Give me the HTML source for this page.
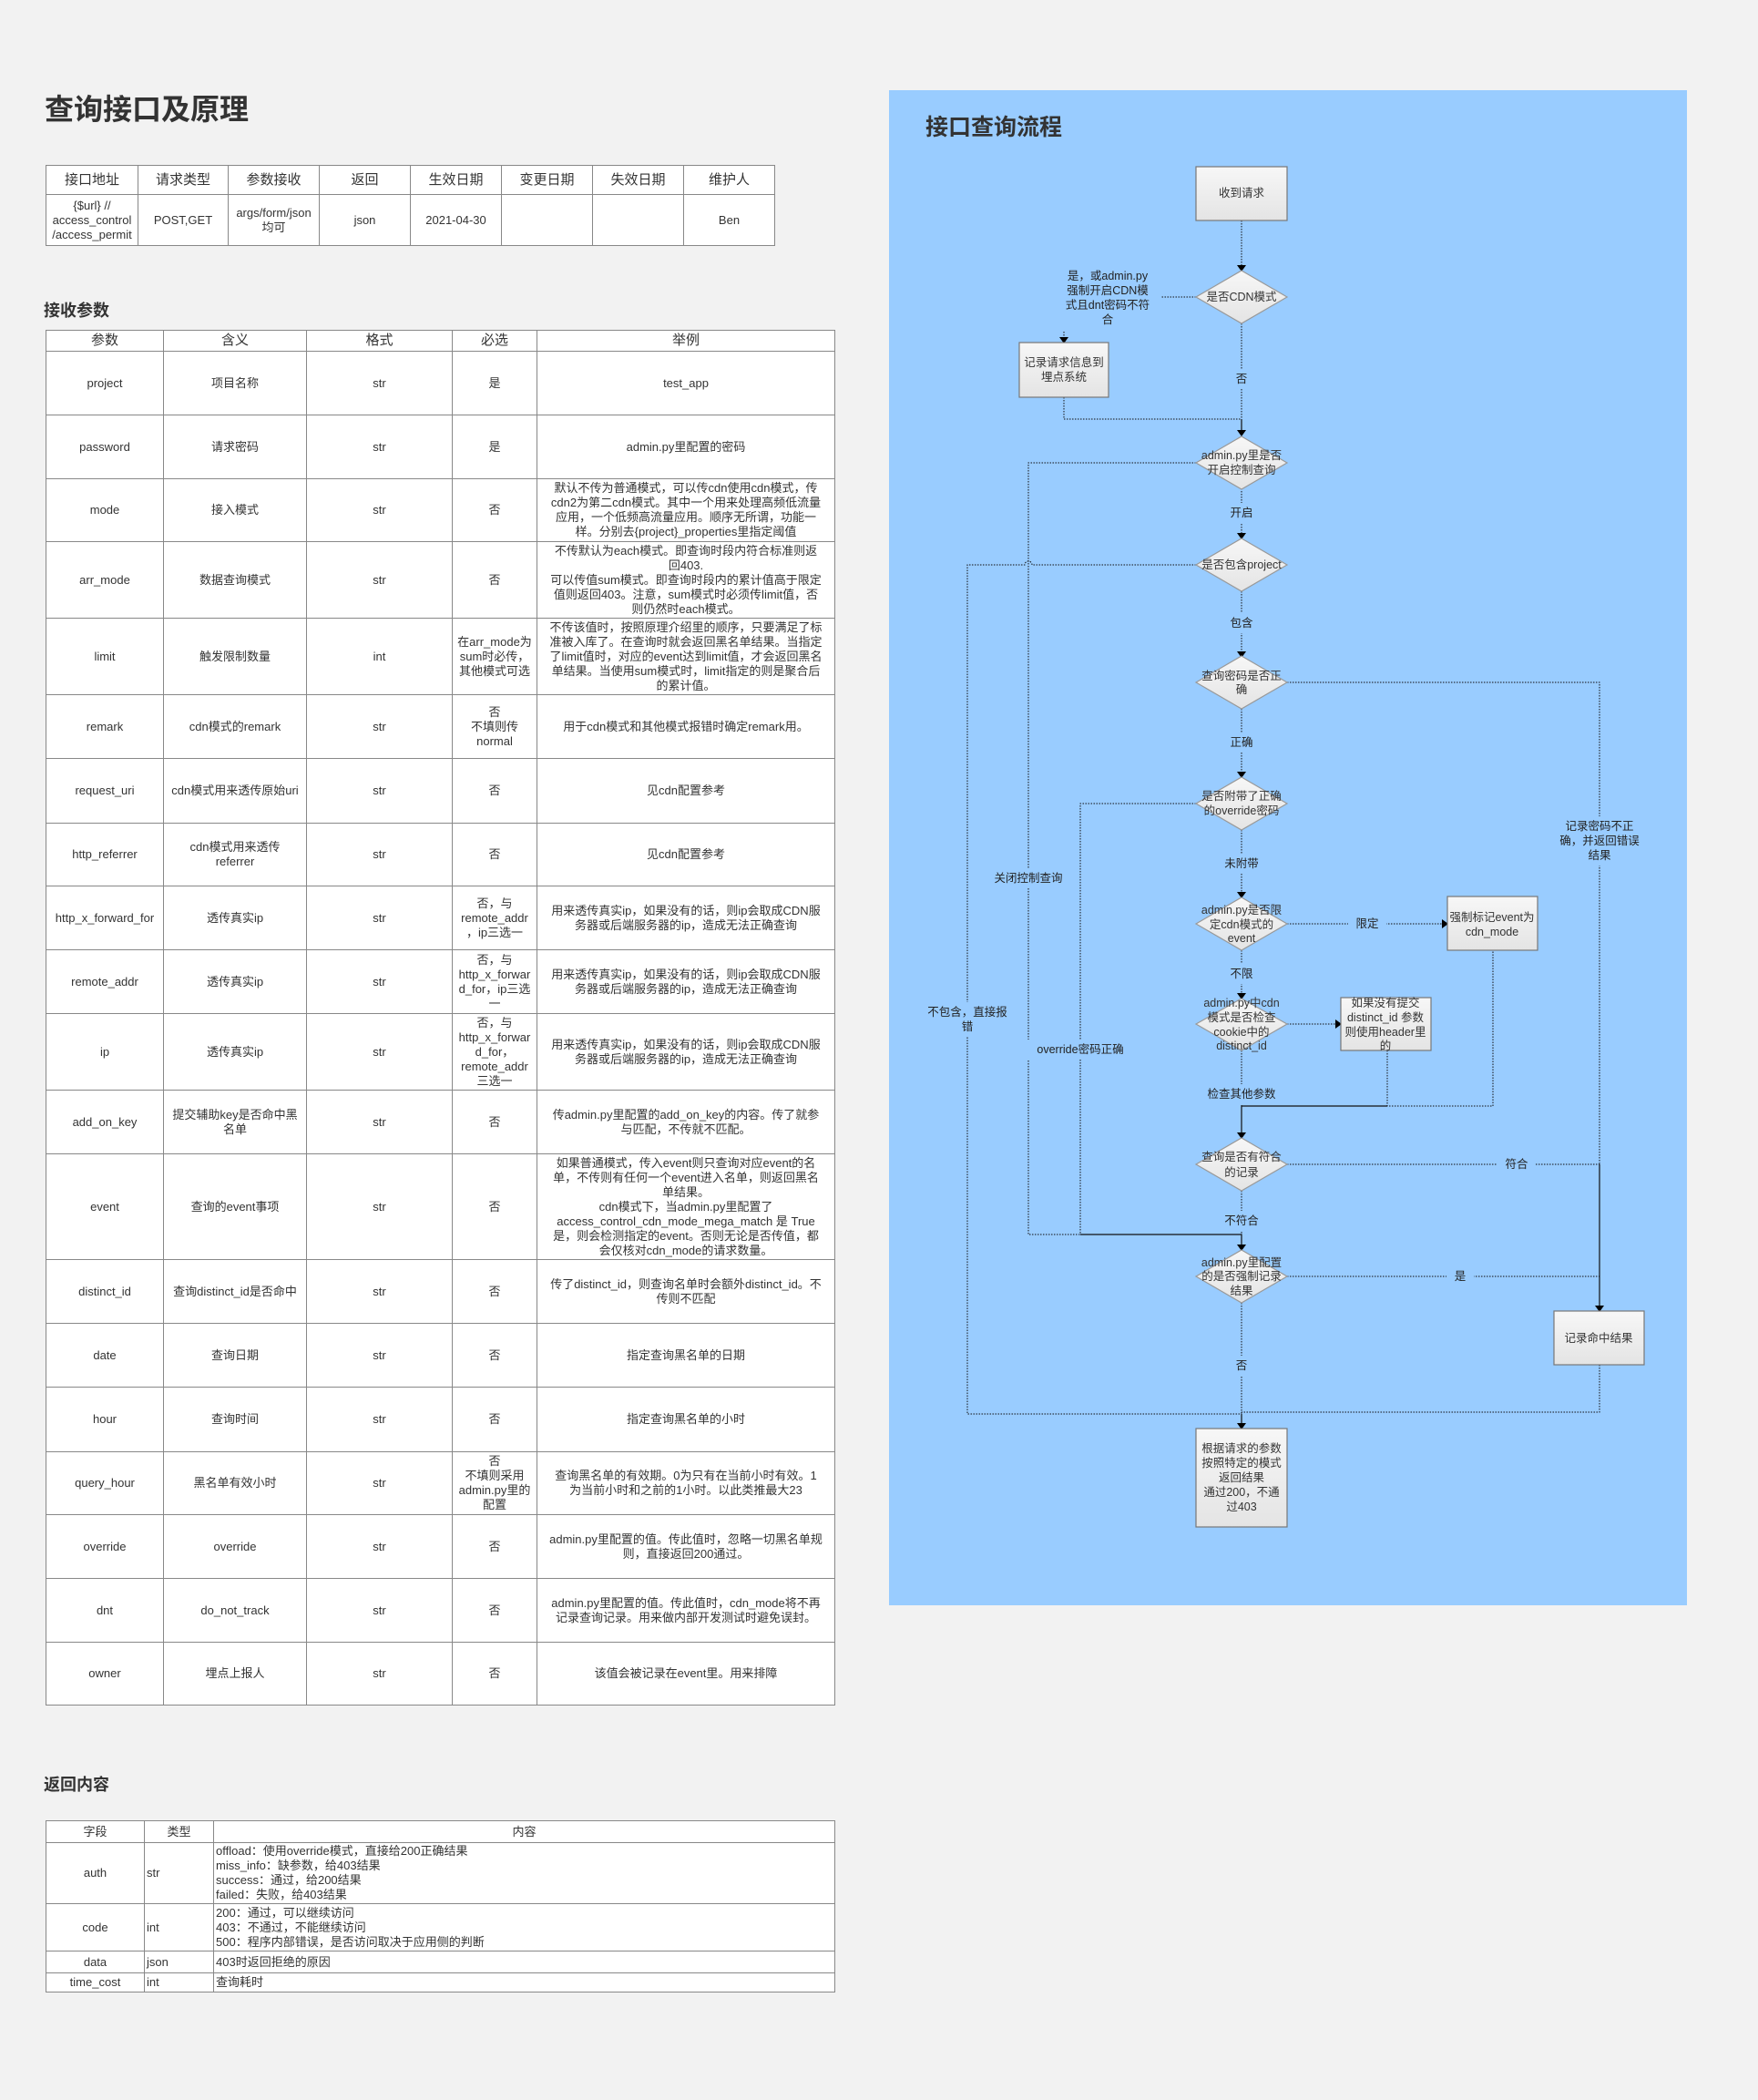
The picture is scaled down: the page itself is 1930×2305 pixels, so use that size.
<!DOCTYPE html>
<html><head><meta charset="utf-8">
<style>
html,body{margin:0;padding:0;}
body{width:1930px;height:2305px;background:#f2f2f2;position:relative;overflow:hidden;font-family:"Liberation Sans","Noto Sans CJK SC",sans-serif;color:#333;}
h1{position:absolute;left:49px;top:99px;margin:0;font-size:32px;line-height:42px;font-weight:bold;color:#333;}
h2{position:absolute;margin:0;font-size:18px;line-height:24px;font-weight:bold;color:#333;}
table{position:absolute;border-collapse:collapse;table-layout:fixed;background:#fff;}
td,th{border:1px solid #888;font-size:13px;line-height:16px;text-align:center;vertical-align:middle;padding:0 2px;font-weight:normal;color:#333;overflow:hidden;}
th{font-size:15px;}
.l{text-align:left;}
#panel{position:absolute;left:976px;top:99px;width:876px;height:1663px;background:#99ccff;}
svg{position:absolute;left:0;top:0;}
</style></head><body>
<h1>查询接口及原理</h1>

<table style="left:50px;top:181px;width:800px;">
<colgroup><col style="width:101px"><col style="width:99px"><col style="width:100px"><col style="width:100px"><col style="width:100px"><col style="width:100px"><col style="width:100px"><col style="width:100px"></colgroup>
<tr style="height:32px"><th>接口地址</th><th>请求类型</th><th>参数接收</th><th>返回</th><th>生效日期</th><th>变更日期</th><th>失效日期</th><th>维护人</th></tr>
<tr style="height:56px"><td style="padding:0">{$url} //<br>access_control<br>/access_permit</td><td>POST,GET</td><td>args/form/json<br>均可</td><td>json</td><td>2021-04-30</td><td></td><td></td><td>Ben</td></tr>
</table>

<h2 style="left:48px;top:329px;">接收参数</h2>

<table style="left:50px;top:362px;width:866px;">
<colgroup><col style="width:129px"><col style="width:157px"><col style="width:160px"><col style="width:93px"><col style="width:327px"></colgroup>
<tr style="height:23px"><th>参数</th><th>含义</th><th>格式</th><th>必选</th><th>举例</th></tr>
<tr style="height:70px"><td>project</td><td>项目名称</td><td>str</td><td>是</td><td>test_app</td></tr>
<tr style="height:70px"><td>password</td><td>请求密码</td><td>str</td><td>是</td><td>admin.py里配置的密码</td></tr>
<tr style="height:69px"><td>mode</td><td>接入模式</td><td>str</td><td>否</td><td>默认不传为普通模式，可以传cdn使用cdn模式，传<br>cdn2为第二cdn模式。其中一个用来处理高频低流量<br>应用，一个低频高流量应用。顺序无所谓，功能一<br>样。分别去{project}_properties里指定阈值</td></tr>
<tr style="height:84px"><td>arr_mode</td><td>数据查询模式</td><td>str</td><td>否</td><td>不传默认为each模式。即查询时段内符合标准则返<br>回403.<br>可以传值sum模式。即查询时段内的累计值高于限定<br>值则返回403。注意，sum模式时必须传limit值，否<br>则仍然时each模式。</td></tr>
<tr style="height:84px"><td>limit</td><td>触发限制数量</td><td>int</td><td style="padding:0">在arr_mode为<br>sum时必传，<br>其他模式可选</td><td>不传该值时，按照原理介绍里的顺序，只要满足了标<br>准被入库了。在查询时就会返回黑名单结果。当指定<br>了limit值时，对应的event达到limit值，才会返回黑名<br>单结果。当使用sum模式时，limit指定的则是聚合后<br>的累计值。</td></tr>
<tr style="height:70px"><td>remark</td><td>cdn模式的remark</td><td>str</td><td>否<br>不填则传<br>normal</td><td>用于cdn模式和其他模式报错时确定remark用。</td></tr>
<tr style="height:71px"><td>request_uri</td><td style="padding:0">cdn模式用来透传原始uri</td><td>str</td><td>否</td><td>见cdn配置参考</td></tr>
<tr style="height:69px"><td>http_referrer</td><td>cdn模式用来透传<br>referrer</td><td>str</td><td>否</td><td>见cdn配置参考</td></tr>
<tr style="height:70px"><td style="padding:0">http_x_forward_for</td><td>透传真实ip</td><td>str</td><td style="padding:0">否，与<br>remote_addr<br>，ip三选一</td><td>用来透传真实ip，如果没有的话，则ip会取成CDN服<br>务器或后端服务器的ip，造成无法正确查询</td></tr>
<tr style="height:70px"><td>remote_addr</td><td>透传真实ip</td><td>str</td><td style="padding:0">否，与<br>http_x_forwar<br>d_for，ip三选<br>一</td><td>用来透传真实ip，如果没有的话，则ip会取成CDN服<br>务器或后端服务器的ip，造成无法正确查询</td></tr>
<tr style="height:84px"><td>ip</td><td>透传真实ip</td><td>str</td><td style="padding:0">否，与<br>http_x_forwar<br>d_for，<br>remote_addr<br>三选一</td><td>用来透传真实ip，如果没有的话，则ip会取成CDN服<br>务器或后端服务器的ip，造成无法正确查询</td></tr>
<tr style="height:70px"><td>add_on_key</td><td>提交辅助key是否命中黑<br>名单</td><td>str</td><td>否</td><td>传admin.py里配置的add_on_key的内容。传了就参<br>与匹配，不传就不匹配。</td></tr>
<tr style="height:116px"><td>event</td><td>查询的event事项</td><td>str</td><td>否</td><td>如果普通模式，传入event则只查询对应event的名<br>单，不传则有任何一个event进入名单，则返回黑名<br>单结果。<br>cdn模式下，当admin.py里配置了<br>access_control_cdn_mode_mega_match 是 True<br>是，则会检测指定的event。否则无论是否传值，都<br>会仅核对cdn_mode的请求数量。</td></tr>
<tr style="height:70px"><td>distinct_id</td><td style="padding:0">查询distinct_id是否命中</td><td>str</td><td>否</td><td>传了distinct_id，则查询名单时会额外distinct_id。不<br>传则不匹配</td></tr>
<tr style="height:70px"><td>date</td><td>查询日期</td><td>str</td><td>否</td><td>指定查询黑名单的日期</td></tr>
<tr style="height:71px"><td>hour</td><td>查询时间</td><td>str</td><td>否</td><td>指定查询黑名单的小时</td></tr>
<tr style="height:69px"><td>query_hour</td><td>黑名单有效小时</td><td>str</td><td style="padding:0">否<br>不填则采用<br>admin.py里的<br>配置</td><td>查询黑名单的有效期。0为只有在当前小时有效。1<br>为当前小时和之前的1小时。以此类推最大23</td></tr>
<tr style="height:70px"><td>override</td><td>override</td><td>str</td><td>否</td><td>admin.py里配置的值。传此值时，忽略一切黑名单规<br>则，直接返回200通过。</td></tr>
<tr style="height:70px"><td>dnt</td><td>do_not_track</td><td>str</td><td>否</td><td>admin.py里配置的值。传此值时，cdn_mode将不再<br>记录查询记录。用来做内部开发测试时避免误封。</td></tr>
<tr style="height:69px"><td>owner</td><td>埋点上报人</td><td>str</td><td>否</td><td>该值会被记录在event里。用来排障</td></tr>
</table>

<h2 style="left:48px;top:1947px;">返回内容</h2>

<table style="left:50px;top:1998px;width:866px;">
<colgroup><col style="width:108px"><col style="width:76px"><col style="width:682px"></colgroup>
<tr style="height:24px"><td>字段</td><td>类型</td><td>内容</td></tr>
<tr style="height:67px"><td>auth</td><td class="l">str</td><td class="l">offload：使用override模式，直接给200正确结果<br>miss_info：缺参数，给403结果<br>success：通过，给200结果<br>failed：失败，给403结果</td></tr>
<tr style="height:52px"><td>code</td><td class="l">int</td><td class="l">200：通过，可以继续访问<br>403：不通过，不能继续访问<br>500：程序内部错误，是否访问取决于应用侧的判断</td></tr>
<tr style="height:24px"><td>data</td><td class="l">json</td><td class="l">403时返回拒绝的原因</td></tr>
<tr style="height:21px"><td>time_cost</td><td class="l">int</td><td class="l">查询耗时</td></tr>
</table>

<div id="panel"></div>

<svg width="1930" height="2305" viewBox="0 0 1930 2305" xmlns="http://www.w3.org/2000/svg" font-family="Liberation Sans, Noto Sans CJK SC, sans-serif">
<defs>
<linearGradient id="g" x1="0" y1="0" x2="0" y2="1"><stop offset="0" stop-color="#f7f7f7"/><stop offset="1" stop-color="#e4e4e4"/></linearGradient>
</defs>
<text x="1016" y="148" font-size="25" font-weight="bold" fill="#333">接口查询流程</text>

<g fill="none" stroke="#111" stroke-width="1" stroke-dasharray="1.5,1.5">
<path d="M1363 242V292"/>
<path d="M1313 326H1275"/>
<path d="M1168 364V371"/>
<path d="M1363 355V474"/>
<path d="M1168 436V460H1363"/>
<path d="M1313 508H1129V1355H1186"/>
<path d="M1363 536V586"/>
<path d="M1313 620H1133A4 4 0 0 0 1125 620H1062V1552H1363"/>
<path d="M1363 649V716"/>
<path d="M1413 749H1756V1278"/>
<path d="M1363 778V848"/>
<path d="M1313 882H1186V1355"/>
<path d="M1363 911V980"/>
<path d="M1413 1014H1583"/>
<path d="M1363 1043V1091"/>
<path d="M1413 1124H1466"/>
<path d="M1363 1153V1214"/>
<path d="M1523 1153V1214H1639V1043"/>
<path d="M1413 1278H1756"/>
<path d="M1363 1307V1355"/>
<path d="M1413 1401H1756"/>
<path d="M1363 1430V1552"/>
<path d="M1756 1498V1550H1363"/>
</g>
<g fill="none" stroke="#111" stroke-width="1.2">
<path d="M1363 460V474"/>
<path d="M1523 1214H1363V1244"/>
<path d="M1186 1355H1363V1367"/>
<path d="M1756 1278V1434"/>
<path d="M1363 1552V1563"/>
</g>
<g fill="#000">
<path d="M1358 291H1368L1363 298Z"/>
<path d="M1163 370H1173L1168 377Z"/>
<path d="M1358 472H1368L1363 479Z"/>
<path d="M1358 585H1368L1363 592Z"/>
<path d="M1358 715H1368L1363 722Z"/>
<path d="M1358 847H1368L1363 854Z"/>
<path d="M1358 979H1368L1363 986Z"/>
<path d="M1358 1090H1368L1363 1097Z"/>
<path d="M1358 1243H1368L1363 1250Z"/>
<path d="M1358 1366H1368L1363 1373Z"/>
<path d="M1751 1433H1761L1756 1440Z"/>
<path d="M1358 1562H1368L1363 1569Z"/>
<path d="M1583 1009V1019L1590 1014Z"/>
<path d="M1466 1119V1129L1473 1124Z"/>
</g>

<g font-size="12.5" fill="#222" text-anchor="middle" dominant-baseline="central">
<rect x="1352" y="405" width="22" height="22" fill="#99ccff"/><text x="1363" y="416">否</text>
<rect x="1346" y="552" width="34" height="22" fill="#99ccff"/><text x="1363" y="563">开启</text>
<rect x="1346" y="673" width="34" height="22" fill="#99ccff"/><text x="1363" y="684">包含</text>
<rect x="1346" y="804" width="34" height="22" fill="#99ccff"/><text x="1363" y="815">正确</text>
<rect x="1340" y="937" width="46" height="22" fill="#99ccff"/><text x="1363" y="948">未附带</text>
<rect x="1346" y="1058" width="34" height="22" fill="#99ccff"/><text x="1363" y="1069">不限</text>
<rect x="1320" y="1190" width="86" height="22" fill="#99ccff"/><text x="1363" y="1201">检查其他参数</text>
<rect x="1340" y="1329" width="46" height="22" fill="#99ccff"/><text x="1363" y="1340">不符合</text>
<rect x="1352" y="1488" width="22" height="22" fill="#99ccff"/><text x="1363" y="1499">否</text>
<rect x="1480" y="1003" width="42" height="22" fill="#99ccff"/><text x="1501" y="1014">限定</text>
<rect x="1644" y="1267" width="42" height="22" fill="#99ccff"/><text x="1665" y="1278">符合</text>
<rect x="1588" y="1390" width="30" height="22" fill="#99ccff"/><text x="1603" y="1401">是</text>
<rect x="1082" y="953" width="94" height="22" fill="#99ccff"/><text x="1129" y="964">关闭控制查询</text>
<rect x="1128" y="1141" width="116" height="22" fill="#99ccff"/><text x="1186" y="1152">override密码正确</text>
<rect x="1010" y="1100" width="104" height="38" fill="#99ccff"/><text x="1062" y="1111">不包含，直接报</text><text x="1062" y="1127">错</text>
<rect x="1706" y="896" width="100" height="54" fill="#99ccff"/><text x="1756" y="907">记录密码不正</text><text x="1756" y="923">确，并返回错误</text><text x="1756" y="939">结果</text>
<text x="1216" y="303">是，或admin.py</text><text x="1216" y="319">强制开启CDN模</text><text x="1216" y="335">式且dnt密码不符</text><text x="1216" y="351">合</text>
</g>

<g fill="url(#g)" stroke="#999" stroke-width="1.2">
<path d="M1363 297L1413 326L1363 355L1313 326Z"/>
<path d="M1363 479L1413 508L1363 537L1313 508Z"/>
<path d="M1363 591L1413 620L1363 649L1313 620Z"/>
<path d="M1363 720L1413 749L1363 778L1313 749Z"/>
<path d="M1363 853L1413 882L1363 911L1313 882Z"/>
<path d="M1363 985L1413 1014L1363 1043L1313 1014Z"/>
<path d="M1363 1096L1413 1124L1363 1153L1313 1124Z"/>
<path d="M1363 1249L1413 1278L1363 1307L1313 1278Z"/>
<path d="M1363 1372L1413 1401L1363 1430L1313 1401Z"/>
</g>
<g fill="url(#g)" stroke="#777" stroke-width="1.2">
<rect x="1313" y="183" width="100" height="59"/>
<rect x="1119" y="376" width="98" height="60"/>
<rect x="1589" y="984" width="99" height="59"/>
<rect x="1472" y="1095" width="99" height="58"/>
<rect x="1706" y="1439" width="99" height="59"/>
<rect x="1313" y="1568" width="100" height="108"/>
</g>
<g font-size="12.5" fill="#333" text-anchor="middle" dominant-baseline="central">
<text x="1363" y="326">是否CDN模式</text>
<text x="1363" y="500">admin.py里是否</text><text x="1363" y="516">开启控制查询</text>
<text x="1363" y="620">是否包含project</text>
<text x="1363" y="742">查询密码是否正</text><text x="1363" y="757">确</text>
<text x="1363" y="874">是否附带了正确</text><text x="1363" y="890">的override密码</text>
<text x="1363" y="999">admin.py是否限</text><text x="1363" y="1015">定cdn模式的</text><text x="1363" y="1030">event</text>
<text x="1363" y="1101">admin.py中cdn</text><text x="1363" y="1117">模式是否检查</text><text x="1363" y="1133">cookie中的</text><text x="1363" y="1148">distinct_id</text>
<text x="1363" y="1270">查询是否有符合</text><text x="1363" y="1287">的记录</text>
<text x="1363" y="1386">admin.py里配置</text><text x="1363" y="1401">的是否强制记录</text><text x="1363" y="1417">结果</text>
<text x="1363" y="212">收到请求</text>
<text x="1168" y="398">记录请求信息到</text><text x="1168" y="414">埋点系统</text>
<text x="1638" y="1007">强制标记event为</text><text x="1638" y="1023">cdn_mode</text>
<text x="1521" y="1101">如果没有提交</text><text x="1521" y="1117">distinct_id 参数</text><text x="1521" y="1133">则使用header里</text><text x="1521" y="1148">的</text>
<text x="1755" y="1469">记录命中结果</text>
<text x="1363" y="1590">根据请求的参数</text><text x="1363" y="1606">按照特定的模式</text><text x="1363" y="1622">返回结果</text><text x="1363" y="1638">通过200，不通</text><text x="1363" y="1654">过403</text>
</g>
</svg>
</body></html>
